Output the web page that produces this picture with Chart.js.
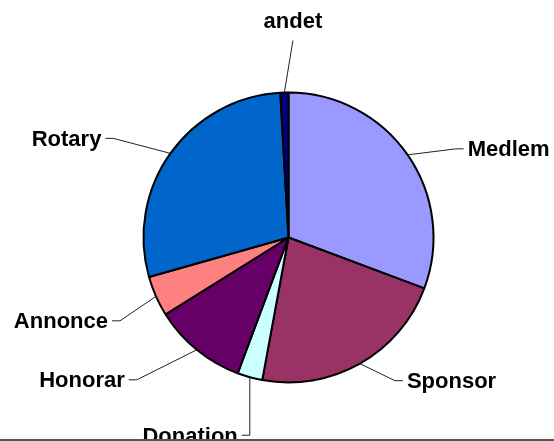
<!DOCTYPE html>
<html>
<head>
<meta charset="utf-8">
<script src="https://cdn.jsdelivr.net/npm/chart.js@4"></script>
<style>
    html, body { margin: 0; padding: 0; background: #fff; }
    canvas { display: block; }
</style>
</head>
<body>
<canvas id="pieChart" width="554" height="441"></canvas>
<script>
// Data (shares in %)
const categories = ['Medlem', 'Sponsor', 'Donation', 'Honorar', 'Annonce', 'Rotary', 'andet'];
const shares = [30.7, 22.2, 2.8, 10.4, 4.5, 28.5, 0.9];
const sliceColors = ['#9999FF', '#993366', '#CCFFFF', '#660066', '#FF8080', '#0066CC', '#000080'];

// Leader line elbows, relative to the slice mid point on the rim; side: 1 right, -1 left, 0 above
const leaders = [
    { dx: 48, dy: -6, side: 1 },
    { dx: 35, dy: 17, side: 1 },
    { dx: 0, dy: 58, side: -1 },
    { dx: -60, dy: 30, side: -1 },
    { dx: -36, dy: 24.5, side: -1 },
    { dx: -57, dy: -15, side: -1 },
    { dx: 8.5, dy: -52, side: 0 }
];

const labelPlugin = {
    id: 'leaderLabels',
    afterDraw(chart) {
        const ctx = chart.ctx;
        const arcs = chart.getDatasetMeta(0).data;
        ctx.save();
        ctx.strokeStyle = '#222';
        ctx.lineWidth = 1;
        ctx.fillStyle = '#000';
        ctx.font = 'bold 22px "Liberation Sans", Arial, sans-serif';
        ctx.textBaseline = 'alphabetic';

        arcs.forEach((arc, i) => {
            const p = arc.getProps(['x', 'y', 'startAngle', 'endAngle', 'outerRadius'], true);
            const mid = (p.startAngle + p.endAngle) / 2;
            const ax = p.x + p.outerRadius * Math.cos(mid);
            const ay = p.y + p.outerRadius * Math.sin(mid);
            const l = leaders[i];
            const ex = ax + l.dx;
            const ey = ay + l.dy;

            ctx.beginPath();
            ctx.moveTo(ax, ay);
            ctx.lineTo(ex, ey);
            if (l.side !== 0) {
                ctx.lineTo(ex + l.side * 8, ey);
            }
            ctx.stroke();

            if (l.side === 0) {
                ctx.textAlign = 'center';
                ctx.fillText(categories[i], ex, ey - 13);
            } else {
                ctx.textAlign = l.side > 0 ? 'left' : 'right';
                ctx.fillText(categories[i], ex + l.side * 12, ey + 7.5);
            }
        });

        // frame edge at the bottom
        ctx.fillStyle = '#555';
        ctx.fillRect(0, 439, chart.width, 2);
        ctx.restore();
    }
};

new Chart(document.getElementById('pieChart').getContext('2d'), {
    type: 'pie',
    data: {
        labels: categories,
        datasets: [{
            data: shares,
            backgroundColor: sliceColors,
            borderColor: '#000',
            borderWidth: 2,
            radius: 145
        }]
    },
    options: {
        responsive: false,
        devicePixelRatio: 1,
        animation: false,
        events: [],
        layout: {
            padding: { left: 23, right: 0, top: 34, bottom: 0 }
        },
        plugins: {
            legend: { display: false },
            tooltip: { enabled: false }
        }
    },
    plugins: [labelPlugin]
});
</script>
</body>
</html>
